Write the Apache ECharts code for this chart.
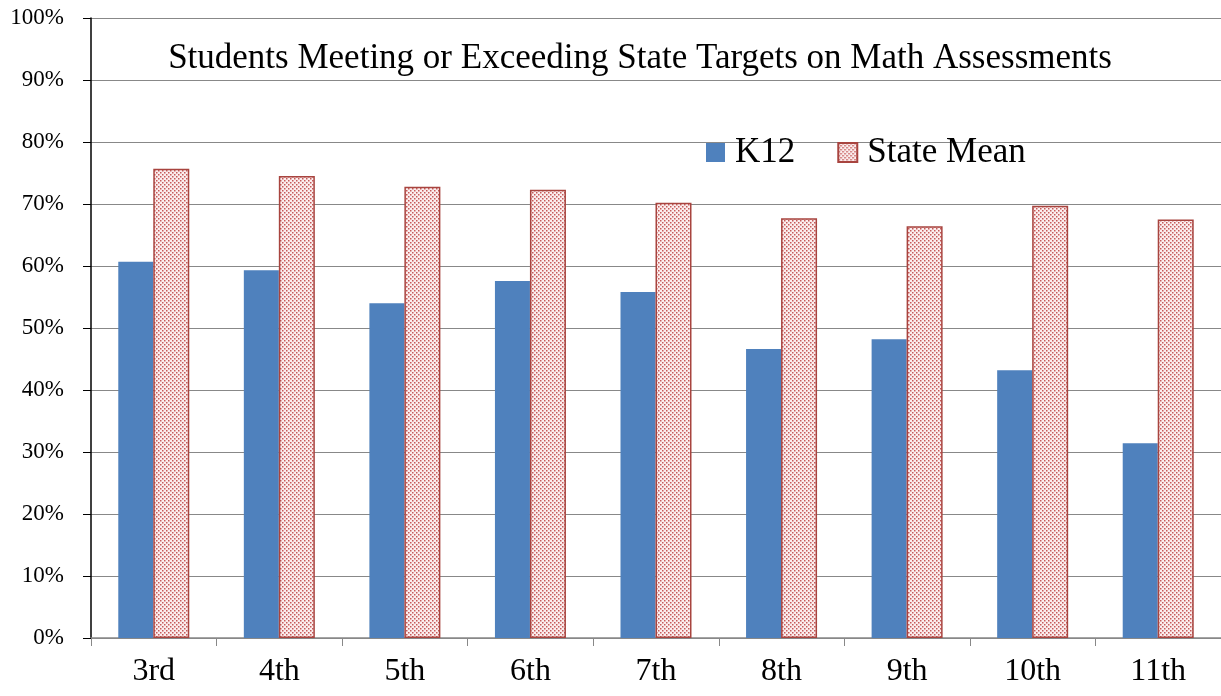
<!DOCTYPE html>
<html><head><meta charset="utf-8">
<script src="https://cdn.jsdelivr.net/npm/echarts@6/dist/echarts.min.js"></script>
<style>html,body{margin:0;padding:0;background:#fff}#c{width:1221px;height:696px}</style>
</head><body><div id="c"></div>
<script>
const categories = ['3rd','4th','5th','6th','7th','8th','9th','10th','11th'];
const k12 = [60.7, 59.3, 54.0, 57.6, 55.8, 46.6, 48.2, 43.2, 31.4];
const stateMean = [75.7, 74.5, 72.8, 72.3, 70.2, 67.7, 66.4, 69.7, 67.5];
const titleText = 'Students Meeting or Exceeding State Targets on Math Assessments';

const F = "'Liberation Serif','Times New Roman',serif";
const tile = document.createElement('canvas');
tile.width = 4; tile.height = 4;
const g = tile.getContext('2d');
g.fillStyle = '#fbeeee'; g.fillRect(0,0,4,4);
g.fillStyle = '#c65a5a';
g.fillRect(0,0,1.5,1.5); g.fillRect(2,2,1.5,1.5);

const chart = echarts.init(document.getElementById('c'));
chart.setOption({
  animation: false,
  title: { text: titleText, left: 635, top: 36, textAlign: 'center',
    textStyle: { fontFamily: F, fontSize: 35, fontWeight: 'normal', color: '#000' } },
  legend: { left: 701, top: 130, itemWidth: 19, itemHeight: 19, itemGap: 42, icon: 'rect',
    textStyle: { fontFamily: F, fontSize: 35, color: '#000', padding: [0,0,0,5] },
    data: ['K12','State Mean'] },
  grid: { left: 91, right: 0, top: 18, bottom: 58 },
  xAxis: { type: 'category', data: categories,
    axisLine: { lineStyle: { color: '#888', width: 1.5 } },
    axisTick: { show: true, length: 8, lineStyle: { color: '#888' } },
    axisLabel: { fontFamily: F, fontSize: 32, color: '#000', margin: 18 } },
  yAxis: { type: 'value', min: 0, max: 100, interval: 10,
    axisLine: { show: true, lineStyle: { color: '#000', width: 1.5 } },
    axisTick: { show: true, length: 8, lineStyle: { color: '#000' } },
    splitLine: { lineStyle: { color: '#888', width: 1.2 } },
    axisLabel: { formatter: '{value}%', fontFamily: F, fontSize: 23, color: '#000', margin: 27 } },
  series: [
    { name: 'K12', type: 'bar', data: k12, barWidth: 35, barGap: '0%',
      itemStyle: { color: '#4f81bd' } },
    { name: 'State Mean', type: 'bar', data: stateMean, barWidth: 36,
      itemStyle: { color: { image: tile, repeat: 'repeat' }, borderColor: '#a8443f', borderWidth: 1.5 } }
  ]
});
</script></body></html>
